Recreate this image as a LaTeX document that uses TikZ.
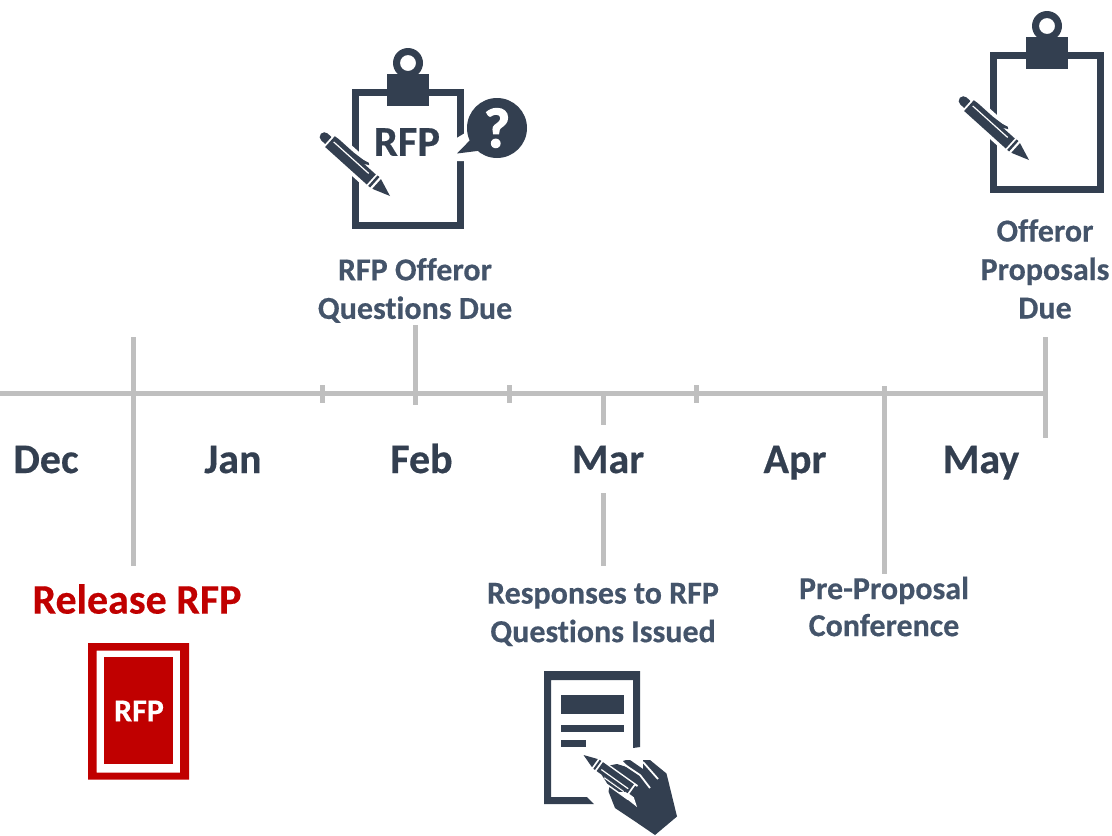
\documentclass[tikz,border=0pt]{standalone}
\usepackage{fontspec}
\setmainfont[Ligatures=NoCommon,BoldFeatures={FakeBold=0.4}]{Carlito}
\newfontfamily\qfont[BoldFeatures={FakeBold=2.5}]{Carlito}
\definecolor{icon}{HTML}{333F50}
\definecolor{lab}{HTML}{44546A}
\definecolor{axisgray}{HTML}{BFBFBF}
\definecolor{redd}{HTML}{C00000}
\tikzset{
  axisline/.style={draw=axisgray,line width=5pt},
  ticksmall/.style={draw=axisgray,line width=5pt},
  month/.style={font=\fontsize{42}{44}\selectfont\bfseries,text=icon,inner sep=0pt,anchor=base},
  evlabel/.style={font=\fontsize{32}{38.5}\selectfont\bfseries,text=lab,inner sep=0pt,align=center,anchor=center},
}
\newcommand{\penicon}[3]{%
  \begin{scope}[shift={(#1,#2)},rotate=#3]
    \fill[white] (14,-10.5) rectangle (74,12);
    \fill[icon] (0,0) -- (18,6.5) -- (18,-6.5) -- cycle;
    \fill[icon] (20.5,-7) rectangle (23,7);
    \fill[icon] (25,-7) -- (81,-7) -- (81,7.5) -- (76,8) -- (56,8) -- (44,9) -- (38,10.5)
       -- (36,9) -- (41,6.5) -- (25,6.5) -- cycle;
    \draw[white,line width=1.2pt] (31,2.5) -- (78,2.5);
    \fill[icon] (83,-4.7) -- (88.3,-4.7) arc[start angle=-90,end angle=90,radius=4.7] -- (83,4.7) -- cycle;
  \end{scope}}
\newcommand{\clipicon}[4]{% left top right bottom
  \draw[icon,line width=7pt,miter limit=10] (#1+3.5,#2+3.5) rectangle (#3-3.5,#4-3.5);
  \fill[icon] ({(#1+#3)/2-21},#2-15) rectangle ({(#1+#3)/2+21},#2+17);
  \fill[icon,even odd rule] ({(#1+#3)/2},#2-26) circle[radius=15pt] ({(#1+#3)/2},#2-26) circle[radius=8pt];
}
\begin{document}
\begin{tikzpicture}[x=1pt,y=-1pt]
\useasboundingbox (0,0) rectangle (1112,836);
% axis
\coordinate (a0) at (0,393);
\coordinate (a1) at (1045,393);
\draw[axisline] (a0) -- (a1);
\coordinate (t1a) at (133,337); \coordinate (t1b) at (133,566);
\draw[axisline] (t1a) -- (t1b);
\coordinate (t2a) at (415,325); \coordinate (t2b) at (415,405);
\draw[axisline] (t2a) -- (t2b);
\coordinate (s1a) at (322,385); \coordinate (s1b) at (322,403);
\draw[ticksmall] (s1a) -- (s1b);
\coordinate (s2a) at (509,385); \coordinate (s2b) at (509,403);
\draw[ticksmall] (s2a) -- (s2b);
\coordinate (s3a) at (696,385); \coordinate (s3b) at (696,403);
\draw[ticksmall] (s3a) -- (s3b);
\coordinate (t3a) at (603,393); \coordinate (t3b) at (603,425);
\draw[axisline] (t3a) -- (t3b);
\coordinate (t4a) at (603,493); \coordinate (t4b) at (603,566);
\draw[axisline] (t4a) -- (t4b);
\coordinate (t5a) at (884,386); \coordinate (t5b) at (884,574);
\draw[axisline] (t5a) -- (t5b);
\coordinate (t6a) at (1045,337); \coordinate (t6b) at (1045,438);
\draw[axisline] (t6a) -- (t6b);
% months
\node[month] (dec) at (46,473) {Dec};
\node[month] (jan) at (233,473) {Jan};
\node[month] (feb) at (421.500,473) {Feb};
\node[month] (mar) at (608,473) {Mar};
\node[month] (apr) at (795,473) {Apr};
\node[month] (may) at (981,473) {May};
% labels
\node[evlabel] (q) at (415,290.500) {RFP Offeror\\Questions Due};
\node[evlabel] (p) at (1045,269) {Offeror\\Proposals\\Due};
\node[evlabel] (r) at (603,614.500) {Responses to RFP\\Questions Issued};
\node[evlabel,font=\fontsize{32}{37}\selectfont\bfseries] (c) at (884,606.500) {Pre-Proposal\\Conference};
\node[font=\fontsize{42}{44}\selectfont\bfseries,text=redd,inner sep=0pt] (rel) at (137,599) {Release RFP};
% red RFP doc
\fill[redd,even odd rule] (88,643) rectangle (189,779.500) (96.700,650.500) rectangle (180,772.700);
\fill[redd] (104,657) rectangle (173,764);
\node[font=\fontsize{32}{34}\selectfont\bfseries,text=white,inner sep=0pt] (rf) at (139,711) {RFP};
% clipboard 1
\clipicon{352}{89}{464}{229}
\node[font=\fontsize{42.500}{44}\selectfont\bfseries,text=icon,inner sep=0pt] (t) at (407,142) {RFP};
\fill[white] (455,139) -- (470,130) -- (470,161) -- (455,161) -- cycle;
\fill[icon] (497,128) circle[radius=30pt];
\fill[icon] (475,135) -- (457,153.500) -- (485,150) -- cycle;
\node[font=\qfont\fontsize{56}{56}\selectfont\bfseries,text=white,inner sep=0pt] (qm) at (497,128) {?};
\penicon{390}{196}{138}
% clipboard 2
\clipicon{990}{52}{1104}{193}
\penicon{1029}{160}{138}
% document and hand
\fill[icon] (544,671) -- (640,671) -- (640,747) -- (633,748) -- (633,680) -- (551,680)
  -- (551,797) -- (587,797) -- (594,804) -- (544,804) -- cycle;
\fill[icon] (561,695) rectangle (624,714);
\fill[icon] (561,725) rectangle (624,732);
\fill[icon] (561,740) rectangle (586,747);
% hand
\fill[icon] (609.0,765.5) -- (617,764) -- (630,768) -- (623,761) -- (626,760) -- (630,760)
  -- (643,769) -- (643,760) -- (650,760) -- (666.500,773.500) -- (677,816.500) -- (655,835)
  -- (633,820) -- (615,808) -- (608.500,791.500) -- (610,784) -- (620,775) -- (610,772) -- cycle;
\fill[white] (618,792) -- (624,786) -- (630,786) -- (637,807) -- cycle;
\draw[white,line width=1.8pt] (625,765) -- (640,775) -- (650,788);
\draw[white,line width=1.8pt] (643,762) -- (658,779);
% pen in hand
\begin{scope}[shift={(583.500,755)},rotate=-35.500]
  \fill[white] (14,-7) rectangle (62,11);
  \fill[icon] (0,0) -- (14,5) -- (14,-5) -- cycle;
  \fill[icon] (16,-5.500) rectangle (18,5.500);
  \fill[icon] (20,-5.500) rectangle (58,5.500);
  \draw[white,line width=1.2pt] (23,1.500) -- (56,1.500);
  \fill[icon] (26,5.500) -- (36,9.500) -- (50,9.500) -- (56,5.500) -- cycle;
  \draw[white,line width=1pt] (30,6.500) -- (54,6.500);
  \fill[icon] (60,-5) rectangle (66,5);
\end{scope}
\end{tikzpicture}
\end{document}
